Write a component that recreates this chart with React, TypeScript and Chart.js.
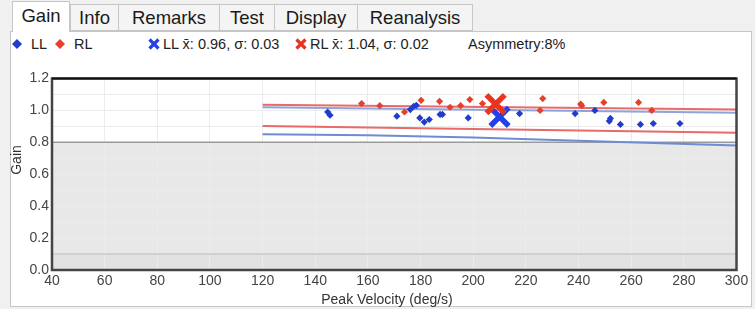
import React, { useEffect, useRef } from "react";
import { Chart, registerables } from "chart.js";
Chart.register(...registerables);

const tabs = ["Gain", "Info", "Remarks", "Test", "Display", "Reanalysis"];
const tabLefts = [12, 70, 118, 219, 274, 357, 472];

// LL (left lateral) individual gains
const llX = [144.7, 145.6, 171, 176.1, 177.4, 178.4, 179.7, 181.4, 183.3, 187.4, 188.3, 198.1, 217.6, 238.7, 246.2, 251.7, 252.1, 255.9, 263.5, 268.4, 278.5];
const llY = [0.99, 0.97, 0.964, 1.005, 1.026, 1.032, 0.953, 0.927, 0.943, 0.975, 0.975, 0.953, 0.98, 0.98, 1.0, 0.933, 0.95, 0.912, 0.912, 0.918, 0.918];

// RL (right lateral) individual gains
const rlX = [157.6, 164.5, 173.9, 180.2, 187.2, 191.2, 195.2, 198.7, 203.5, 225.4, 226.4, 240.8, 241.2, 249.6, 262.8, 267.8];
const rlY = [1.043, 1.03, 0.99, 1.063, 1.057, 1.02, 1.03, 1.068, 1.043, 1.0, 1.074, 1.04, 1.03, 1.05, 1.05, 1.0];

// means
const meanLabels = ["LL", "RL"];
const meanX = [210, 208.5];
const meanY = [0.96, 1.04];
const meanSd = [0.03, 0.02];
const asymmetry = 8;

// reference lines
const rlUpperX = [120, 300];
const rlUpperY = [1.035, 1.005];
const rlLowerX = [120, 300];
const rlLowerY = [0.902, 0.86];
const llUpperX = [120, 300];
const llUpperY = [1.02, 0.985];
const llLowerX = [120, 160, 200, 240, 300];
const llLowerY = [0.85, 0.845, 0.83, 0.81, 0.78];

const xTicks = [40, 60, 80, 100, 120, 140, 160, 180, 200, 220, 240, 260, 280, 300];
const yTickLabels = ["0.0", "0.2", "0.4", "0.6", "0.8", "1.0", "1.2"];

const BLUE = "#1f3ccc";
const RED = "#e5402c";
const FONT = "'Liberation Sans', Arial, sans-serif";

const zip = (xs: number[], ys: number[]) => xs.map((x, i) => ({ x, y: ys[i] }));

function Diamond({ color }: { color: string }) {
  return (
    <svg width="10" height="10" style={{ display: "block" }}>
      <polygon points="5,0 10,5 5,10 0,5" fill={color} />
    </svg>
  );
}
function Cross({ color }: { color: string }) {
  return (
    <svg width="12" height="12" style={{ display: "block" }}>
      <line x1="1.5" y1="1.5" x2="10.5" y2="10.5" stroke={color} strokeWidth="3.2" />
      <line x1="10.5" y1="1.5" x2="1.5" y2="10.5" stroke={color} strokeWidth="3.2" />
    </svg>
  );
}

export default function App() {
  const ref = useRef<HTMLCanvasElement>(null);
  useEffect(() => {
    const canvas = ref.current!;
    const plugin = {
      id: "deco",
      beforeDraw(chart: any) {
        const { ctx, chartArea: a, scales } = chart;
        const y = scales.y;
        const y08 = y.getPixelForValue(0.8);
        const y01 = y.getPixelForValue(0.1);
        const y0 = y.getPixelForValue(0);
        ctx.save();
        ctx.fillStyle = "#ffffff";
        ctx.fillRect(a.left, a.top, a.width, a.height);
        ctx.fillStyle = "#e8e8e8";
        ctx.fillRect(a.left, y08, a.width, y0 - y08);
        ctx.fillStyle = "#e2e2e2";
        ctx.fillRect(a.left, y01, a.width, y0 - y01);
        ctx.restore();
      },
      beforeDatasetsDraw(chart: any) {
        const { ctx, chartArea: a, scales } = chart;
        const y = scales.y;
        ctx.save();
        ctx.strokeStyle = "#9a9a9a";
        ctx.lineWidth = 1.5;
        ctx.beginPath();
        ctx.moveTo(a.left, y.getPixelForValue(0.8));
        ctx.lineTo(a.right, y.getPixelForValue(0.8));
        ctx.stroke();
        ctx.strokeStyle = "#c8c8c8";
        ctx.lineWidth = 1.5;
        ctx.beginPath();
        ctx.moveTo(a.left, y.getPixelForValue(0.1));
        ctx.lineTo(a.right, y.getPixelForValue(0.1));
        ctx.stroke();
        ctx.restore();
      },
      afterDraw(chart: any) {
        const { ctx, chartArea: a } = chart;
        ctx.save();
        ctx.strokeStyle = "#444";
        ctx.lineWidth = 2.5;
        ctx.strokeRect(a.left, a.top, a.width, a.height);
        ctx.strokeStyle = "#111";
        ctx.lineWidth = 2;
        ctx.beginPath();
        ctx.moveTo(a.left, a.top);
        ctx.lineTo(a.right, a.top);
        ctx.stroke();
        ctx.fillStyle = "#333";
        ctx.font = `14px ${FONT}`;
        ctx.textAlign = "center";
        ctx.textBaseline = "middle";
        ctx.fillText("Peak Velocity (deg/s)", 387, 240);
        ctx.translate(17, 100);
        ctx.rotate(-Math.PI / 2);
        ctx.fillText("Gain", 0, 0);
        ctx.restore();
      },
    };
    const chart = new Chart(canvas, {
      type: "scatter",
      data: {
        datasets: [
          {
            label: meanLabels[0] + " mean",
            data: [{ x: meanX[0], y: meanY[0] }],
            pointStyle: "crossRot",
            pointRadius: 13,
            borderWidth: 5.5,
            borderColor: "#2440e8",
            backgroundColor: "#2440e8",
            order: 1,
          },
          {
            label: meanLabels[1] + " mean",
            data: [{ x: meanX[1], y: meanY[1] }],
            pointStyle: "crossRot",
            pointRadius: 13,
            borderWidth: 5.5,
            borderColor: "#ea3420",
            backgroundColor: "#ea3420",
            order: 0,
          },
          {
            label: "LL",
            data: zip(llX, llY),
            pointStyle: "rectRot",
            pointRadius: 3.6,
            borderWidth: 0,
            backgroundColor: BLUE,
            borderColor: BLUE,
            order: 3,
          },
          {
            label: "RL",
            data: zip(rlX, rlY),
            pointStyle: "rectRot",
            pointRadius: 3.6,
            borderWidth: 0,
            backgroundColor: RED,
            borderColor: RED,
            order: 2,
          },
          {
            label: "RL upper",
            data: zip(rlUpperX, rlUpperY),
            showLine: true,
            pointRadius: 0,
            borderColor: "#e86a6a",
            borderWidth: 2,
            order: 5,
          },
          {
            label: "RL lower",
            data: zip(rlLowerX, rlLowerY),
            showLine: true,
            pointRadius: 0,
            borderColor: "#e86a6a",
            borderWidth: 2,
            order: 5,
          },
          {
            label: "LL upper",
            data: zip(llUpperX, llUpperY),
            showLine: true,
            pointRadius: 0,
            borderColor: "#8ea3dc",
            borderWidth: 2,
            order: 6,
          },
          {
            label: "LL lower",
            data: zip(llLowerX, llLowerY),
            showLine: true,
            pointRadius: 0,
            borderColor: "#6f8bd2",
            borderWidth: 2,
            order: 6,
          },
        ],
      },
      options: {
        animation: false,
        responsive: false,
        maintainAspectRatio: false,
        layout: { padding: { left: 0, right: 13, top: 17, bottom: 0 } },
        plugins: { legend: { display: false }, tooltip: { enabled: false } },
        scales: {
          x: {
            type: "linear",
            min: xTicks[0],
            max: xTicks[xTicks.length - 1],
            afterFit: (s: any) => { s.height = 39; },
            afterBuildTicks: (s: any) => { s.ticks = xTicks.map((v) => ({ value: v })); },
            ticks: {
              font: { family: FONT, size: 14 },
              color: "#444",
              padding: 3,
              maxRotation: 0,
              autoSkip: false,
              callback: (v: any) => String(v),
            },
            grid: { color: "#ececec", drawTicks: false, lineWidth: 1 },
            border: { display: false },
          },
          y: {
            type: "linear",
            min: 0,
            max: 1.2,
            afterFit: (s: any) => { s.width = 52; },
            ticks: {
              stepSize: 0.1,
              font: { family: FONT, size: 14 },
              color: "#444",
              padding: 3,
              autoSkip: false,
              callback: (v: any) => {
                const k = Math.round(Number(v) * 10);
                return k % 2 === 0 ? yTickLabels[k / 2] : "";
              },
            },
            grid: { color: "#ececec", drawTicks: false, lineWidth: 1 },
            border: { display: false },
          },
        },
      },
      plugins: [plugin],
    } as any);
    return () => chart.destroy();
  }, []);

  const small: React.CSSProperties = { position: "absolute", top: 36, fontFamily: FONT, fontSize: 14.5, color: "#222", lineHeight: "17px", whiteSpace: "nowrap" };
  const iconStyle = (left: number, top = 39): React.CSSProperties => ({ position: "absolute", left, top });

  return (
    <div style={{ position: "fixed", left: 0, top: 0, width: 755, height: 309, background: "#f0f0f0", overflow: "hidden", fontFamily: FONT }}>
      <div style={{ position: "absolute", left: 10, top: 31, width: 742, height: 276, background: "#fff", border: "1px solid #c6c6c6", boxSizing: "border-box" }} />
      {tabs.map((t, i) => {
        const sel = i === 0;
        return (
          <div
            key={t}
            style={{
              position: "absolute",
              left: tabLefts[i],
              top: sel ? 1 : 4,
              width: tabLefts[i + 1] - tabLefts[i] + (sel ? 0 : 1),
              height: sel ? 31 : 27,
              background: sel ? "#fff" : "#f4f4f4",
              border: "1px solid #c6c6c6",
              borderBottom: sel ? "none" : "1px solid #c6c6c6",
              boxSizing: "border-box",
              fontSize: 18.5,
              color: "#1a1a1a",
              textAlign: "center",
              lineHeight: sel ? "28px" : "25px",
              zIndex: sel ? 2 : 1,
            }}
          >
            {t}
          </div>
        );
      })}
      <div style={iconStyle(12)}><Diamond color={BLUE} /></div>
      <div style={{ ...small, left: 31 }}>LL</div>
      <div style={iconStyle(55)}><Diamond color={RED} /></div>
      <div style={{ ...small, left: 74 }}>RL</div>
      <div style={iconStyle(148, 38)}><Cross color="#2440e8" /></div>
      <div style={{ ...small, left: 163 }}>{`${meanLabels[0]} x\u0304: ${meanY[0].toFixed(2)}, σ: ${meanSd[0].toFixed(2)}`}</div>
      <div style={iconStyle(295, 38)}><Cross color="#ea3420" /></div>
      <div style={{ ...small, left: 310 }}>{`${meanLabels[1]} x\u0304: ${meanY[1].toFixed(2)}, σ: ${meanSd[1].toFixed(2)}`}</div>
      <div style={{ ...small, left: 468 }}>{`Asymmetry:${asymmetry}%`}</div>
      <canvas ref={ref} width={755} height={249} style={{ position: "absolute", left: 0, top: 60, width: 755, height: 249 }} />
    </div>
  );
}
